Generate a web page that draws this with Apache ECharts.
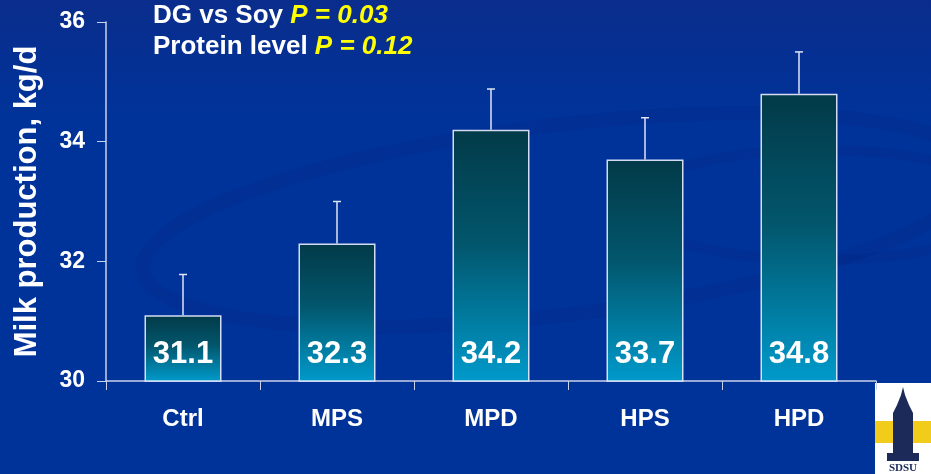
<!DOCTYPE html>
<html>
<head>
<meta charset="utf-8">
<script src="https://cdn.jsdelivr.net/npm/echarts@6/dist/echarts.min.js"></script>
<style>
html, body { margin: 0; padding: 0; }
#main { width: 931px; height: 474px; }
</style>
</head>
<body>
<div id="main"></div>
<script>
// data
var categories = ['Ctrl', 'MPS', 'MPD', 'HPS', 'HPD'];
var milk = [31.1, 32.3, 34.2, 33.7, 34.8];
var stdErr = [0.68, 0.70, 0.68, 0.70, 0.70];
var yTicks = [30, 32, 34, 36];

var myChart = echarts.init(document.getElementById('main'));
var font = 'Liberation Sans, Arial, sans-serif';
var axisColor = '#c9d2ea';

var option = {
    backgroundColor: {
        type: 'linear', x: 0, y: 0, x2: 0, y2: 1,
        colorStops: [
            { offset: 0, color: '#0a2d8c' },
            { offset: 0.25, color: '#00339a' },
            { offset: 1, color: '#003399' }
        ]
    },
    textStyle: { fontFamily: font },
    graphic: [
        // faint swirl
        {
            type: 'ellipse', z: -1,
            shape: { cx: 560, cy: 220, rx: 420, ry: 95 },
            style: { fill: 'none', stroke: 'rgba(10,30,110,0.14)', lineWidth: 14 },
            rotation: 0.12, originX: 560, originY: 220
        },
        {
            type: 'ellipse', z: -1,
            shape: { cx: 820, cy: 205, rx: 190, ry: 55 },
            style: { fill: 'none', stroke: 'rgba(10,30,110,0.14)', lineWidth: 10 }
        },
        {
            type: 'text', left: 153, top: 3,
            style: {
                text: '{w|DG vs Soy }{y|P = 0.03}\n{w|Protein level }{y|P = 0.12}',
                rich: {
                    w: { fill: '#ffffff', fontSize: 26, fontWeight: 'bold', fontFamily: font, lineHeight: 31 },
                    y: { fill: '#ffff00', fontSize: 26, fontWeight: 'bold', fontStyle: 'italic', fontFamily: font, lineHeight: 31 }
                }
            }
        },
        // logo
        {
            type: 'group', left: 875, top: 383,
            children: [
                { type: 'rect', shape: { x: 0, y: 0, width: 56, height: 91 }, style: { fill: '#ffffff' } },
                { type: 'rect', shape: { x: 0, y: 38, width: 56, height: 22 }, style: { fill: '#f2cc1a' } },
                { type: 'polygon', shape: { points: [[18, 78], [18, 30], [22, 22], [26, 12], [28, 4], [30, 12], [34, 22], [38, 30], [38, 78]] }, style: { fill: '#1c2a5a' } },
                { type: 'rect', shape: { x: 12, y: 70, width: 32, height: 8 }, style: { fill: '#1c2a5a' } },
                { type: 'text', style: { x: 28, y: 80, text: 'SDSU', fill: '#1c2a5a', fontSize: 11, fontFamily: 'Liberation Serif, serif', fontWeight: 'bold', align: 'center' } }
            ]
        }
    ],
    grid: { left: 106, right: 55, top: 22, bottom: 93 },
    xAxis: {
        type: 'category',
        data: categories,
        axisLine: { lineStyle: { color: axisColor, width: 1.5 } },
        axisTick: { show: true, length: 9, lineStyle: { color: axisColor } },
        axisLabel: { color: '#ffffff', fontSize: 24, fontWeight: 'bold', margin: 26, fontFamily: font }
    },
    yAxis: {
        type: 'value',
        min: 30, max: 36, interval: 2,
        name: 'Milk production, kg/d',
        nameLocation: 'middle',
        nameGap: 63,
        nameTextStyle: { color: '#ffffff', fontSize: 31, fontWeight: 'bold', fontFamily: font },
        splitLine: { show: false },
        axisLine: { show: true, lineStyle: { color: axisColor, width: 1.5 } },
        axisTick: { show: true, length: 9, lineStyle: { color: axisColor } },
        axisLabel: {
            color: '#ffffff', fontSize: 23, fontWeight: 'bold', margin: 21, fontFamily: font,
            formatter: function (v) { return yTicks.indexOf(v) >= 0 ? String(v) : ''; }
        }
    },
    series: [{
        type: 'bar',
        data: milk,
        barWidth: '50%',
        itemStyle: {
            color: {
                type: 'linear', x: 0, y: 0, x2: 0, y2: 1,
                colorStops: [
                    { offset: 0, color: '#023a48' },
                    { offset: 0.45, color: '#02566c' },
                    { offset: 1, color: '#009acb' }
                ]
            },
            borderColor: 'rgba(235,240,255,0.9)',
            borderWidth: 1.5
        },
        label: {
            show: true,
            position: 'insideBottom',
            distance: 12,
            color: '#ffffff',
            fontSize: 31,
            fontWeight: 'bold',
            fontFamily: font,
            formatter: function (p) { return p.value.toFixed(1); }
        },
        z: 2
    }, {
        type: 'custom',
        z: 3,
        data: milk.map(function (v, i) { return [i, v, v + stdErr[i]]; }),
        renderItem: function (params, api) {
            var base = api.coord([api.value(0), api.value(1)]);
            var top = api.coord([api.value(0), api.value(2)]);
            var c = 4;
            return {
                type: 'group',
                children: [
                    { type: 'line', shape: { x1: base[0], y1: base[1], x2: top[0], y2: top[1] }, style: { stroke: '#dfe5f5', lineWidth: 1.5 } },
                    { type: 'line', shape: { x1: top[0] - c, y1: top[1], x2: top[0] + c, y2: top[1] }, style: { stroke: '#dfe5f5', lineWidth: 1.5 } }
                ]
            };
        }
    }]
};

myChart.setOption(option);
</script>
</body>
</html>
